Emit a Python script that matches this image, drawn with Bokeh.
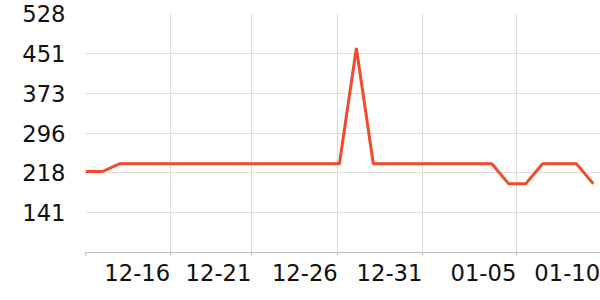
from bokeh.plotting import figure
from bokeh.models import Range1d, FixedTicker, ColumnDataSource
from bokeh.embed import file_html
from bokeh.resources import INLINE

# Data (one point per day, 12-11 .. 01-10)
dates = ["12-11", "12-12", "12-13", "12-14", "12-15", "12-16", "12-17", "12-18",
         "12-19", "12-20", "12-21", "12-22", "12-23", "12-24", "12-25", "12-26",
         "12-27", "12-28", "12-29", "12-30", "12-31", "01-01", "01-02", "01-03",
         "01-04", "01-05", "01-06", "01-07", "01-08", "01-09", "01-10"]
day = [0, 1, 2, 3, 4, 5, 6, 7, 8, 9, 10, 11, 12, 13, 14, 15,
       16, 17, 18, 19, 20, 21, 22, 23, 24, 25, 26, 27, 28, 29, 30]
values = [221, 221, 236, 236, 236, 236, 236, 236, 236, 236, 236, 236, 236, 236, 236, 236,
          461, 236, 236, 236, 236, 236, 236, 236, 236, 197, 197, 236, 236, 236, 197]

# Axis ticks
x_tick_pos = [0.0, 5.0, 9.8, 14.9, 19.9, 25.45, 30.4]
x_tick_labels = ["", "12-16", "12-21", "12-26", "12-31", "01-05", "01-10"]
y_tick_pos = [141.0, 218.4, 295.8, 373.2, 450.6, 528.0]
y_tick_labels = ["141", "218", "296", "373", "451", "528"]

src = ColumnDataSource(data=dict(day=day, value=values, date=dates))

p = figure(width=600, height=300, output_backend="svg", toolbar_location=None,
           x_range=Range1d(0, 30.42), y_range=Range1d(63.6, 528),
           min_border_left=85, min_border_right=0, min_border_top=13, min_border_bottom=48)
p.outline_line_color = None
p.background_fill_color = "white"
p.border_fill_color = "white"

p.line("day", "value", source=src, line_color="#ef4b2c", line_width=3)

font = "DejaVu Sans"
fs = "17pt"

xa = p.xaxis[0]
xa.ticker = FixedTicker(ticks=x_tick_pos)
xa.major_label_overrides = {k: v for k, v in zip(x_tick_pos, x_tick_labels)}
xa.major_label_orientation = 1e-6
xa.axis_line_color = "#bdbdbd"
xa.major_tick_line_color = "#bdbdbd"
xa.major_tick_in = 0
xa.major_tick_out = 3
xa.minor_tick_line_color = None
xa.major_label_standoff = 17
xa.major_label_text_font = font
xa.major_label_text_font_size = fs
xa.major_label_text_color = "#111111"

ya = p.yaxis[0]
ya.ticker = FixedTicker(ticks=y_tick_pos)
ya.major_label_overrides = {k: v for k, v in zip(y_tick_pos, y_tick_labels)}
ya.axis_line_color = None
ya.major_tick_line_color = None
ya.minor_tick_line_color = None
ya.major_tick_in = 0
ya.major_tick_out = 0
ya.major_label_standoff = 20
ya.major_label_text_font = font
ya.major_label_text_font_size = fs
ya.major_label_text_color = "#111111"

p.xgrid.ticker = FixedTicker(ticks=x_tick_pos)
p.ygrid.ticker = FixedTicker(ticks=y_tick_pos)
p.xgrid.grid_line_color = "#dddddd"
p.ygrid.grid_line_color = "#dddddd"

open("out.html", "w").write(file_html(p, INLINE))
